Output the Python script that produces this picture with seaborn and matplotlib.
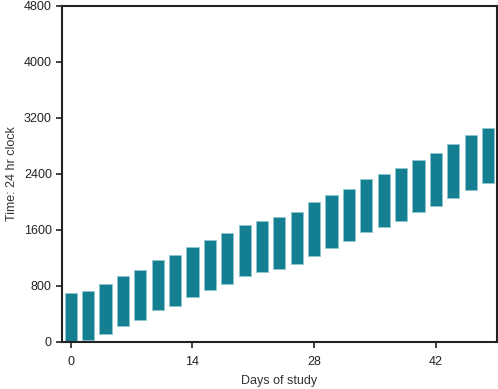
import matplotlib
matplotlib.use("Agg")
import matplotlib.pyplot as plt
import seaborn as sns
import numpy as np
import pandas as pd

days = [0, 2, 4, 6, 8, 10, 12, 14, 16, 18, 20, 22, 24, 26, 28, 30, 32, 34, 36, 38, 40, 42, 44, 46, 48]
sleep_start = [20, 28, 118, 230, 320, 455, 520, 645, 735, 825, 940, 995, 1040, 1115, 1230,
               1340, 1440, 1570, 1645, 1725, 1855, 1940, 2050, 2175, 2270]
sleep_end = [704, 725, 825, 935, 1025, 1170, 1240, 1360, 1460, 1550, 1665, 1730, 1780, 1855, 2000,
             2100, 2190, 2320, 2400, 2480, 2605, 2705, 2820, 2960, 3060]
x_ticks = [0, 14, 28, 42]
y_ticks = [0, 800, 1600, 2400, 3200, 4000, 4800]

df = pd.DataFrame({
    "day": days,
    "start": sleep_start,
    "duration": np.array(sleep_end) - np.array(sleep_start),
})

sns.set_theme(style="ticks")
plt.rcParams["font.family"] = ["Liberation Sans", "DejaVu Sans"]

fig = plt.figure(figsize=(4.98, 3.89), dpi=100)
ax = fig.add_axes([0.1245, 0.121, 0.873, 0.864])

sns.barplot(data=df, x="day", y="duration", native_scale=True, width=0.7,
            color="#147f91", saturation=1, bottom=df["start"].values,
            edgecolor="#8fc7cf", linewidth=0.6, ax=ax, errorbar=None)

ax.set_xlim(-1, 49)
ax.set_ylim(0, 4800)
ax.set_xticks(x_ticks)
ax.set_yticks(y_ticks)
ax.set_xlabel("Days of study", fontsize=9, color="#333333", labelpad=5)
ax.set_ylabel("Time: 24 hr clock", fontsize=9, color="#333333", labelpad=4)
ax.tick_params(axis="both", labelsize=9, colors="#222222", length=4.3, width=1.2)
ax.tick_params(axis="x", pad=6)
ax.tick_params(axis="y", pad=3)
for s in ax.spines.values():
    s.set_visible(True)
    s.set_linewidth(1.5)
    s.set_color("#222222")

fig.savefig("out.png", dpi=100)
